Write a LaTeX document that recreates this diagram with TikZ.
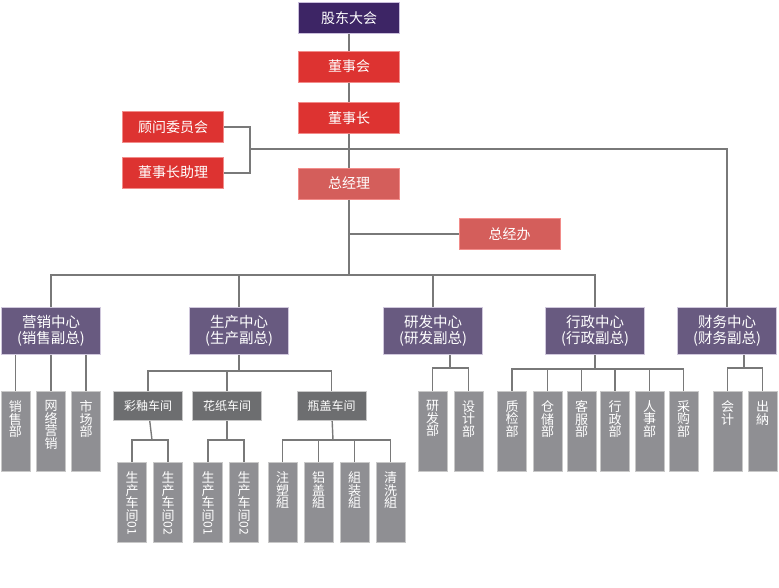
\documentclass[tikz,border=0pt]{standalone}
\usepackage{graphicx}
\usepackage{fontspec}
\setmainfont{Noto Sans CJK SC}
\usepackage{tikz}
\definecolor{gdpurple}{RGB}{61, 37, 101}
\definecolor{gdline}{RGB}{201, 190, 219}
\definecolor{boxred}{RGB}{221, 51, 49}
\definecolor{redline}{RGB}{242, 140, 138}
\definecolor{zjlred}{RGB}{212, 94, 91}
\definecolor{cpurple}{RGB}{104, 90, 128}
\definecolor{cline}{RGB}{208, 200, 220}
\definecolor{shopgray}{RGB}{109, 110, 112}
\definecolor{deptgray}{RGB}{143, 143, 147}
\definecolor{boxline}{RGB}{200, 200, 200}
\definecolor{linkgray}{RGB}{121, 121, 121}
\newcommand{\vtext}[1]{\parbox[c][62pt][t]{16pt}{\centering\fontsize{13}{12.6}\selectfont #1}}
\newcommand{\shopno}[1]{\rotatebox[origin=c]{-90}{\fontsize{12}{12}\selectfont #1}}

\begin{document}
\begin{tikzpicture}[x=1pt, y=-1pt,
    redbox/.style={fill=boxred, draw=redline, line width=1pt, minimum width=101, minimum height=31, inner sep=0pt, text=white, font=\fontsize{14}{16}\selectfont},
    topbox/.style={redbox, fill=gdpurple, draw=gdline},
    zjlbox/.style={redbox, fill=zjlred},
    centerbox/.style={fill=cpurple, draw=cline, line width=1pt, minimum width=99, minimum height=47, inner sep=0pt, align=center, text=white, font=\fontsize{14.5}{16}\selectfont},
    shopbox/.style={fill=shopgray, draw=boxline, line width=1pt, minimum width=69, minimum height=29, inner sep=0pt, text=white, font=\fontsize{12}{14}\selectfont},
    deptbox/.style={fill=deptgray, draw=boxline, line width=1pt, minimum width=29, minimum height=80, inner sep=0pt, text=white},
    link/.style={draw=linkgray, line width=2pt},
    sublink/.style={draw=linkgray, line width=1.4pt}]
  \useasboundingbox (0,0) rectangle (779,587);

  % top of the chart
  \node[topbox] (gd) at (349,18) {股东大会};
  \node[redbox] (dsh) at (349,66.5) {董事会};
  \node[redbox] (dsz) at (349,118) {董事长};
  \node[redbox] (gw) at (173,127) {顾问委员会};
  \node[redbox] (zl) at (173,172.5) {董事长助理};
  \node[zjlbox] (zjl) at (349,183.5) {总经理};
  \node[zjlbox] (zjb) at (509.5,234) {总经办};

  % five centres
  \foreach \n/\x/\ca/\cb in {yx/51/营销/销售, sc/239/生产/生产, yf/433/研发/研发, xz/595/行政/行政, cw/727/财务/财务}
    \node[centerbox] (\n) at (\x,331) {\ca{}中心\\(\cb{}副总)};

  \coordinate (jn) at (250,149);
  \coordinate (bus) at (349,275);
  \draw[link] (gd) -- (dsh);
  \draw[link] (dsh) -- (dsz);
  \draw[link] (dsz) -- (zjl);
  \draw[link] (gw.east) -| (jn) |- (zl.east);
  \draw[link] (jn) -| (cw.north);
  \draw[link] (zjl.south |- zjb.west) -- (zjb.west);
  \draw[link] (zjl) -- (bus);
  \foreach \n in {yx,sc,yf,xz}
    \draw[link] (bus) -| (\n.north);

  % marketing
  \foreach \n/\x/\t in {xsb/15.5/{销\\售\\部}, wlyx/51/{网\\络\\营\\销}, scb/86/{市\\场\\部}} {
    \node[deptbox] (\n) at (\x,431.5) {\vtext{\t}};
    \draw[sublink] (yx.south -| \n.north) -- (\n.north);
  }

  % production
  \coordinate (scj) at (239,371);
  \draw[sublink] (sc) -- (scj);
  \foreach \n/\x/\t in {cy/148/彩釉车间, hz/227/花纸车间, pg/331.5/瓶盖车间} {
    \node[shopbox] (\n) at (\x,406) {\t};
    \draw[sublink] (scj) -| (\n.north);
  }
  \coordinate (cyj) at (152,440);
  \coordinate (hzj) at (227,440);
  \coordinate (pgj) at (333,440);
  \foreach \p in {cy,hz,pg}
    \draw[sublink] (\p) -- (\p j);
  \foreach \p/\n/\x/\t in {cy/cy1/132/{生\\产\\车\\间\\\shopno{01}}, cy/cy2/168/{生\\产\\车\\间\\\shopno{02}},
      hz/hz1/208/{生\\产\\车\\间\\\shopno{01}}, hz/hz2/244/{生\\产\\车\\间\\\shopno{02}},
      pg/zsz/282.5/{注\\塑\\組}, pg/lgz/318.5/{铝\\盖\\組}, pg/zzz/354.5/{組\\装\\組}, pg/qxz/390.5/{清\\洗\\組}} {
    \node[deptbox] (\n) at (\x,502.5) {\vtext{\t}};
    \draw[sublink] (\p j) -| (\n.north);
  }

  % research
  \coordinate (yfj) at (450,368);
  \draw[sublink] (yfj |- yf.south) -- (yfj);
  \foreach \n/\x/\t in {yfb/432.5/{研\\发\\部}, sjb/468.5/{设\\计\\部}} {
    \node[deptbox] (\n) at (\x,431.5) {\vtext{\t}};
    \draw[sublink] (yfj) -| (\n.north);
  }

  % administration
  \coordinate (xzj) at (595,369);
  \draw[sublink] (xz) -- (xzj);
  \foreach \n/\x/\t in {zjb2/512/{质\\检\\部}, ccb/547.5/{仓\\储\\部}, kfb/581.5/{客\\服\\部},
      xzb/615/{行\\政\\部}, rsb/649.5/{人\\事\\部}, cgb/683.5/{采\\购\\部}} {
    \node[deptbox] (\n) at (\x,431.5) {\vtext{\t}};
    \draw[sublink] (xzj) -| (\n.north);
  }

  % finance
  \coordinate (cwj) at (744,368);
  \draw[sublink] (cwj |- cw.south) -- (cwj);
  \foreach \n/\x/\t in {kj/727.5/{会\\计}, cn/762.5/{出\\納}} {
    \node[deptbox] (\n) at (\x,431.5) {\vtext{\t}};
    \draw[sublink] (cwj) -| (\n.north);
  }
\end{tikzpicture}
\end{document}
